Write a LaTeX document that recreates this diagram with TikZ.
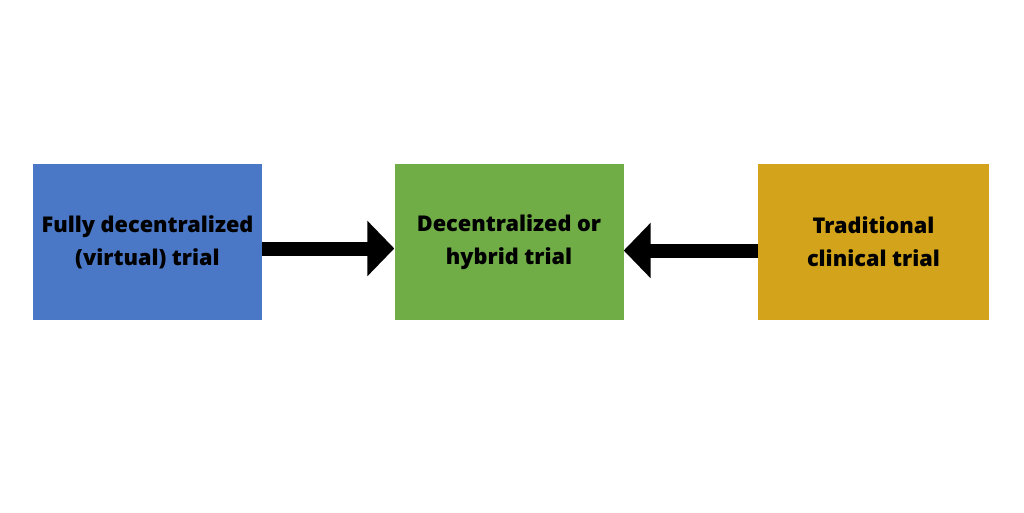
\documentclass[tikz,border=0pt]{standalone}
\usepackage{fontspec}
\setmainfont{Open Sans}[UprightFont=* Bold]
\usetikzlibrary{arrows.meta}
\definecolor{bblue}{HTML}{4A77C6}
\definecolor{bgreen}{HTML}{70AD47}
\definecolor{bgold}{HTML}{D3A41B}
\begin{document}
\begin{tikzpicture}[x=1pt,y=-1pt,
  box/.style={minimum width=229pt,minimum height=156pt,inner sep=0pt,align=center,
    font=\fontsize{21.7}{33}\selectfont\bfseries},
  bigarrow/.style={line width=14pt,-{Triangle[length=27pt,width=54pt]}}]
\useasboundingbox[fill=white] (0,0) rectangle (1024,512);
\node[box,fill=bblue] (a) at (147.5,242) {Fully decentralized\\(virtual) trial};
\node[box,fill=bgreen] (b) at (509,242) {Decentralized or\\hybrid trial};
\node[box,fill=bgold,minimum width=231pt] (c) at (873.5,242) {Traditional\\clinical trial};
\draw[bigarrow] ([yshift=-6.5pt]a.east) -- ([yshift=-6.5pt]b.west);
\draw[bigarrow] ([yshift=-8.5pt]c.west) -- ([yshift=-8.5pt]b.east);
\end{tikzpicture}
\end{document}
